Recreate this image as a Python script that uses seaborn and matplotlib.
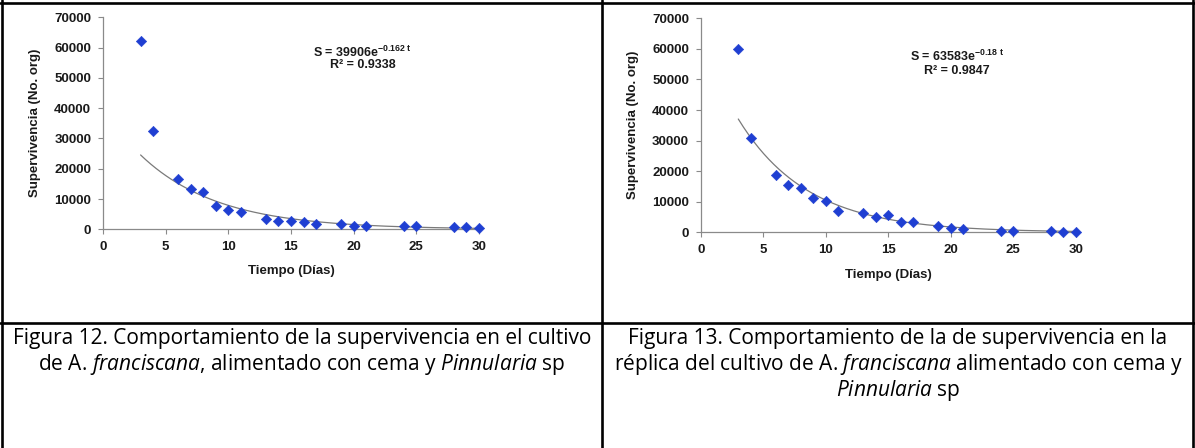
"""
Supervivencia de A. franciscana (cema + Pinnularia): cultivo y réplica.
"""

import numpy as np
import pandas as pd
import matplotlib
matplotlib.use("Agg")
import matplotlib.pyplot as plt
from matplotlib.lines import Line2D
import seaborn as sns

sns.set_theme(style="white")
plt.rcParams["font.family"] = ["Liberation Sans", "DejaVu Sans"]
plt.rcParams["mathtext.fontset"] = "custom"
plt.rcParams["mathtext.default"] = "regular"
plt.rcParams["mathtext.it"] = "Open Sans:italic"
plt.rcParams["mathtext.rm"] = "Open Sans"

# ── Data ────────────────────────────────────────────────────────────────────
dias = [3, 4, 6, 7, 8, 9, 10, 11, 13, 14, 15, 16, 17, 19, 20, 21, 24, 25, 28, 29, 30]

superv_12 = [62300, 32300, 16700, 13300, 12400, 7700, 6400, 5600, 3400, 2850,
             2700, 2500, 1750, 1650, 1200, 1200, 1000, 1000, 750, 750, 550]
superv_13 = [59900, 30700, 18800, 15400, 14400, 11100, 10200, 7000, 6200, 4900,
             5500, 3400, 3300, 1950, 1300, 1000, 550, 350, 350, 150, 150]

# exponential trend lines shown on the charts: S = a * exp(b * t)
fit_12 = (39906, -0.162)
fit_13 = (63583, -0.18)

eq_12 = ["S = 39906e$^{-0.162\\ t}$", "R² = 0.9338"]
eq_13 = ["S = 63583e$^{-0.18\\ t}$", "R² = 0.9847"]

captions_12 = ["Figura 12. Comportamiento de la supervivencia en el cultivo",
               "de A. $\\it{franciscana}$, alimentado con cema y $\\it{Pinnularia}$ sp"]
captions_13 = ["Figura 13. Comportamiento de la de supervivencia en la",
               "réplica del cultivo de A. $\\it{franciscana}$ alimentado con cema y",
               "$\\it{Pinnularia}$ sp"]

W, H = 1195, 448
fig = plt.figure(figsize=(W / 100, H / 100), dpi=100)

BLUE = "#1f3fd2"
INK = "#1a1a1a"


def survival_panel(rect, values, fit, eq, eq_pos):
    ax = fig.add_axes(rect)
    df = pd.DataFrame({"t": dias, "s": values})
    sns.scatterplot(data=df, x="t", y="s", ax=ax, marker="D", s=28,
                    color=BLUE, edgecolor=BLUE, linewidth=0.4, clip_on=False, zorder=3)
    t = np.linspace(min(dias), max(dias), 200)
    curve = pd.DataFrame({"t": t, "s": fit[0] * np.exp(fit[1] * t)})
    sns.lineplot(data=curve, x="t", y="s", ax=ax, color="#7a7a7a", linewidth=0.9, zorder=2)

    ax.set_xlim(0, 30)
    ax.set_ylim(0, 70000)
    ax.set_xticks(range(0, 31, 5))
    ax.set_yticks(range(0, 70001, 10000))
    for side in ["top", "right"]:
        ax.spines[side].set_visible(False)
    for side in ["left", "bottom"]:
        ax.spines[side].set_color("#8a8a8a")
        ax.spines[side].set_linewidth(0.9)
    ax.tick_params(axis="both", which="major", direction="out", length=3.5, width=0.8,
                   color="#8a8a8a", labelsize=9.5, pad=5, left=True, bottom=True)
    for lab in ax.get_xticklabels() + ax.get_yticklabels():
        lab.set_fontweight("bold")
        lab.set_color(INK)

    ax.set_xlabel("Tiempo (Días)", fontsize=9.5, fontweight="bold", color=INK)
    ax.set_ylabel("Supervivencia (No. org)", fontsize=9.5, fontweight="bold", color=INK)
    ax.xaxis.set_label_coords(0.5, -0.17)
    ax.yaxis.set_label_coords(-0.165, 0.5)

    ax.text(eq_pos[0], eq_pos[1], eq[0], transform=ax.transAxes, ha="center", va="center",
            fontsize=9, fontweight="bold", color=INK)
    ax.text(eq_pos[0], eq_pos[2], eq[1], transform=ax.transAxes, ha="center", va="center",
            fontsize=9, fontweight="bold", color=INK)
    return ax


survival_panel([103 / W, 1 - 229.3 / H, 376 / W, 212 / H], superv_12, fit_12, eq_12,
               (0.691, 0.836, 0.775))
survival_panel([700.8 / W, 1 - 232.3 / H, 375 / W, 214 / H], superv_13, fit_13, eq_13,
               (0.683, 0.824, 0.755))

# ── Captions ────────────────────────────────────────────────────────────────
cap_font = dict(fontsize=15, family=["Open Sans", "DejaVu Sans"], color="black",
                fontweight="normal", ha="center", va="center")
for i, line in enumerate(captions_12):
    fig.text(302 / W, 1 - (338 + 26 * i) / H, line, **cap_font)
for i, line in enumerate(captions_13):
    fig.text(898 / W, 1 - (338 + 26 * i) / H, line, **cap_font)

# ── Table borders ───────────────────────────────────────────────────────────
border = dict(color="black", linewidth=1.9, transform=fig.transFigure)
fig.add_artist(Line2D([0, 1], [1 - 3 / H, 1 - 3 / H], **border))
fig.add_artist(Line2D([2 / W, 2 / W], [0, 1], **border))
fig.add_artist(Line2D([602 / W, 602 / W], [0, 1], **border))
fig.add_artist(Line2D([1193 / W, 1193 / W], [0, 1], **border))
fig.add_artist(Line2D([0, 1], [1 - 323 / H, 1 - 323 / H], **border))

plt.savefig("out.png", dpi=100)
